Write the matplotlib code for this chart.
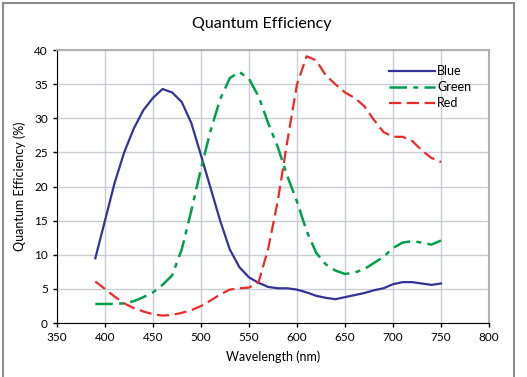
import matplotlib.pyplot as plt
from matplotlib.patches import Rectangle

plt.rcParams['font.family'] = ['Lato', 'DejaVu Sans']

wavelength = [390, 400, 410, 420, 430, 440, 450, 460, 470, 480, 490, 500, 510,
              520, 530, 540, 550, 560, 570, 580, 590, 600, 610, 620, 630, 640,
              650, 660, 670, 680, 690, 700, 710, 720, 730, 740, 750]

blue = [9.5, 15.0, 20.5, 25.0, 28.5, 31.2, 33.0, 34.3, 33.8, 32.4, 29.3, 24.6,
        19.8, 15.0, 10.8, 8.2, 6.7, 5.9, 5.3, 5.1, 5.1, 4.9, 4.5, 4.0, 3.7, 3.5,
        3.8, 4.1, 4.4, 4.8, 5.1, 5.7, 6.0, 6.0, 5.8, 5.6, 5.8]

green = [2.8, 2.8, 2.8, 2.9, 3.2, 3.8, 4.5, 5.6, 7.0, 10.8, 16.5, 22.6, 28.2,
         32.8, 35.9, 36.8, 35.8, 33.2, 29.3, 25.8, 21.5, 17.8, 13.5, 10.3, 8.6,
         7.7, 7.2, 7.4, 7.9, 8.8, 9.7, 11.0, 11.8, 12.0, 11.8, 11.5, 12.1]

red = [6.1, 5.0, 3.9, 2.9, 2.2, 1.7, 1.3, 1.1, 1.2, 1.5, 1.9, 2.5, 3.3, 4.2,
       4.9, 5.1, 5.2, 6.0, 10.9, 17.9, 26.7, 35.0, 39.1, 38.5, 36.3, 35.0, 33.8,
       33.0, 31.8, 29.8, 28.0, 27.3, 27.3, 26.7, 25.3, 24.2, 23.6]

fig = plt.figure(figsize=(5.27, 3.77), dpi=100)
ax = fig.add_axes([0.108, 0.143, 0.82, 0.724])

ax.plot(wavelength, blue, color="#333399", lw=1.6, label="Blue")
ax.plot(wavelength, green, color="#00a04b", lw=1.8, dashes=(7, 2.5, 2, 2.5), label="Green")
ax.plot(wavelength, red, color="#ee2a2a", lw=1.6, dashes=(5.5, 2.5), label="Red")

ax.set_xlim(350, 800)
ax.set_ylim(0, 40)
ax.set_xticks(range(350, 801, 50))
ax.set_yticks(range(0, 41, 5))
ax.tick_params(labelsize=8.5, length=3, width=1, direction="out", color="black")
ax.grid(True, color="#c9ccd3", lw=1)
ax.set_axisbelow(True)
for s in ("top", "right"):
    ax.spines[s].set_color("#b0b0b0")
    ax.spines[s].set_linewidth(1.5)
for s in ("left", "bottom"):
    ax.spines[s].set_color("black")

ax.set_xlabel("Wavelength (nm)", fontsize=9, labelpad=5)
ax.set_ylabel("Quantum Efficiency (%)", fontsize=9, labelpad=6)
fig.text(0.497, 0.937, "Quantum Efficiency", ha="center", va="center", fontsize=11.5)

ax.legend(loc="upper right", bbox_to_anchor=(0.965, 0.953), frameon=False,
          fontsize=9, handlelength=3.7, handletextpad=0.15, labelspacing=0.3,
          borderaxespad=0.0, borderpad=0.2)

fig.patches.append(Rectangle((3 / 527, -0.01), 511 / 527, 1 - 3 / 377 + 0.01,
                             transform=fig.transFigure, fill=False,
                             edgecolor="#8c8c8c", lw=1.5))

fig.savefig("out.png", dpi=100)
